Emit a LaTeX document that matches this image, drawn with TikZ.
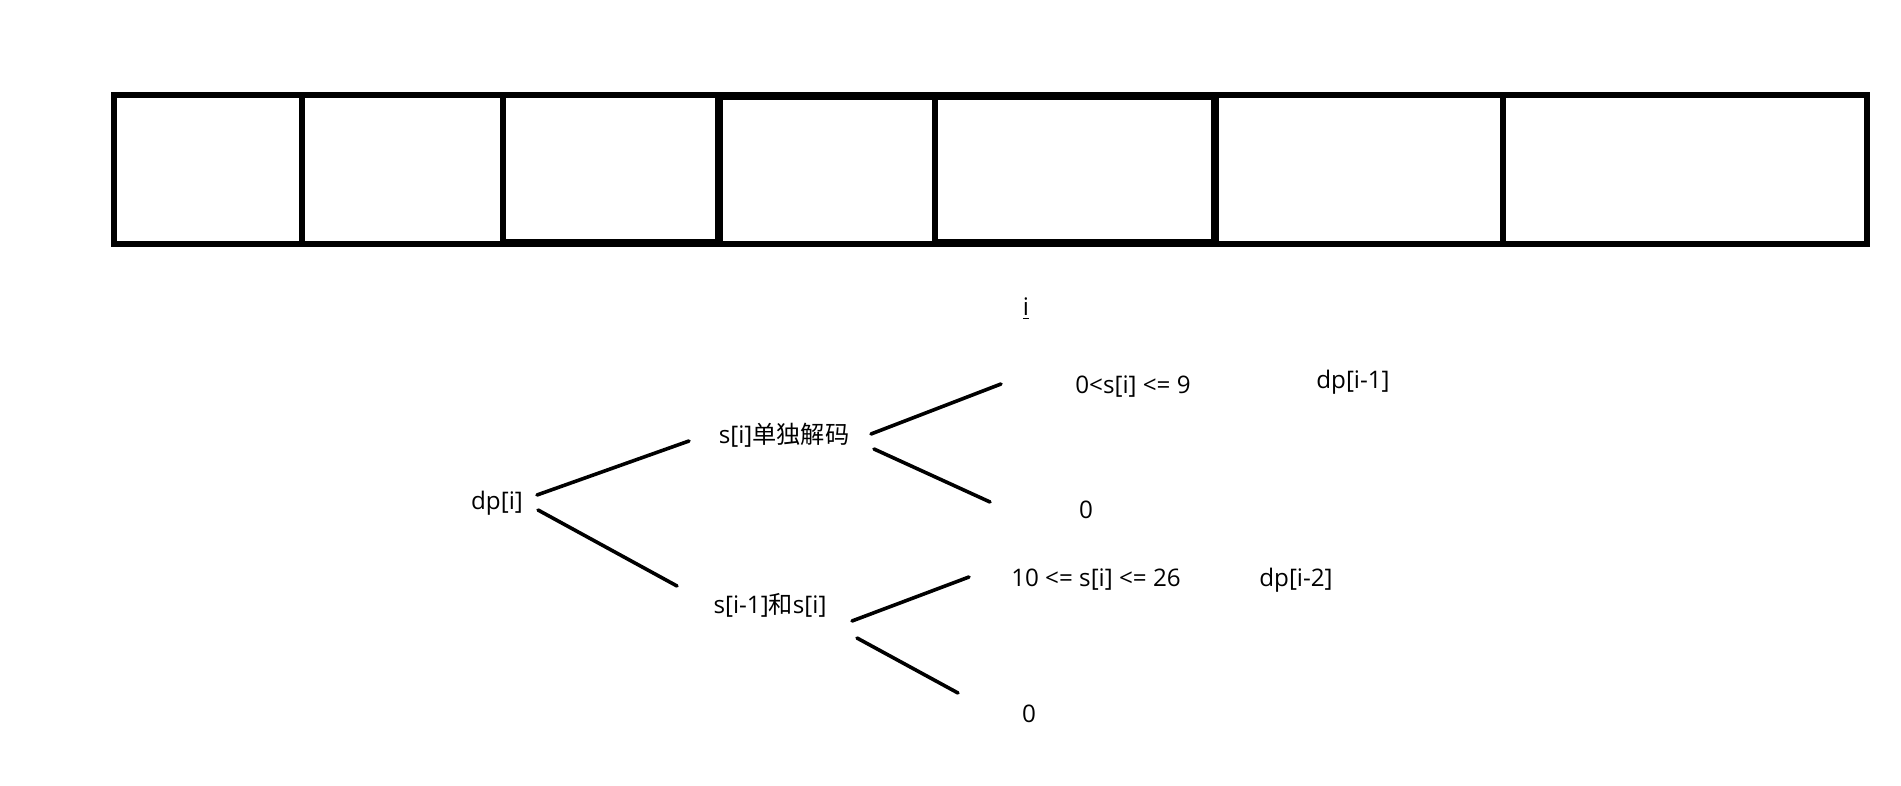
\documentclass[tikz,border=0pt]{standalone}
\usepackage{fontspec}
\setmainfont{Open Sans}
\newfontfamily\cjk{Noto Sans CJK SC}
\begin{document}
\begin{tikzpicture}[x=0.5pt,y=-0.5pt,
  txt/.style={font=\fontsize{12.1}{14}\selectfont, inner sep=0pt},
  branch/.style={line width=1.8pt, line cap=round},
  cellline/.style={line width=2.6pt},
  thickline/.style={line width=3.6pt}]
\path[use as bounding box, fill=white] (0,0) rectangle (1901,786);
% array cells
\draw[cellline] (114,95) rectangle (1867,244);
\foreach \x in {302,503,935,1503} \draw[cellline] (\x,95) -- (\x,244);
\foreach \x in {719,1215} \draw[thickline] (\x,95) -- (\x,244);
\draw[thickline] (719,96) -- (1215,96);
\draw[thickline] (503,243) -- (719,243);
\draw[thickline] (935,243) -- (1215,243);
% labels
\node[txt] (idx) at (1026,309) {\underline{i}};
\node[txt] (dp) at (497,503) {dp[i]};
\node[txt] (s1) at (784,435) {s[i]{\cjk 单独解码}};
\node[txt] (s2) at (770,605) {s[i-1]{\cjk 和}s[i]};
\node[txt] (c1) at (1133,387) {0<s[i] <= 9};
\node[txt] (r1) at (1353,382) {dp[i-1]};
\node[txt] (z1) at (1086,510) {0};
\node[txt] (c2) at (1096,580) {10 <= s[i] <= 26};
\node[txt] (r2) at (1296,580) {dp[i-2]};
\node[txt] (z2) at (1029,714) {0};
% connector ends
\coordinate (dpA) at (537,495);
\coordinate (dpB) at (538,510);
\coordinate (s1L) at (689,441);
\coordinate (s2L) at (677,586);
\coordinate (s1A) at (871,434);
\coordinate (s1B) at (874,449);
\coordinate (c1L) at (1001,384);
\coordinate (z1L) at (990,502);
\coordinate (s2A) at (852,621);
\coordinate (s2B) at (857,638);
\coordinate (c2L) at (969,577);
\coordinate (z2L) at (958,693);
\draw[branch] (dpA) -- (s1L);
\draw[branch] (dpB) -- (s2L);
\draw[branch] (s1A) -- (c1L);
\draw[branch] (s1B) -- (z1L);
\draw[branch] (s2A) -- (c2L);
\draw[branch] (s2B) -- (z2L);
\end{tikzpicture}
\end{document}
